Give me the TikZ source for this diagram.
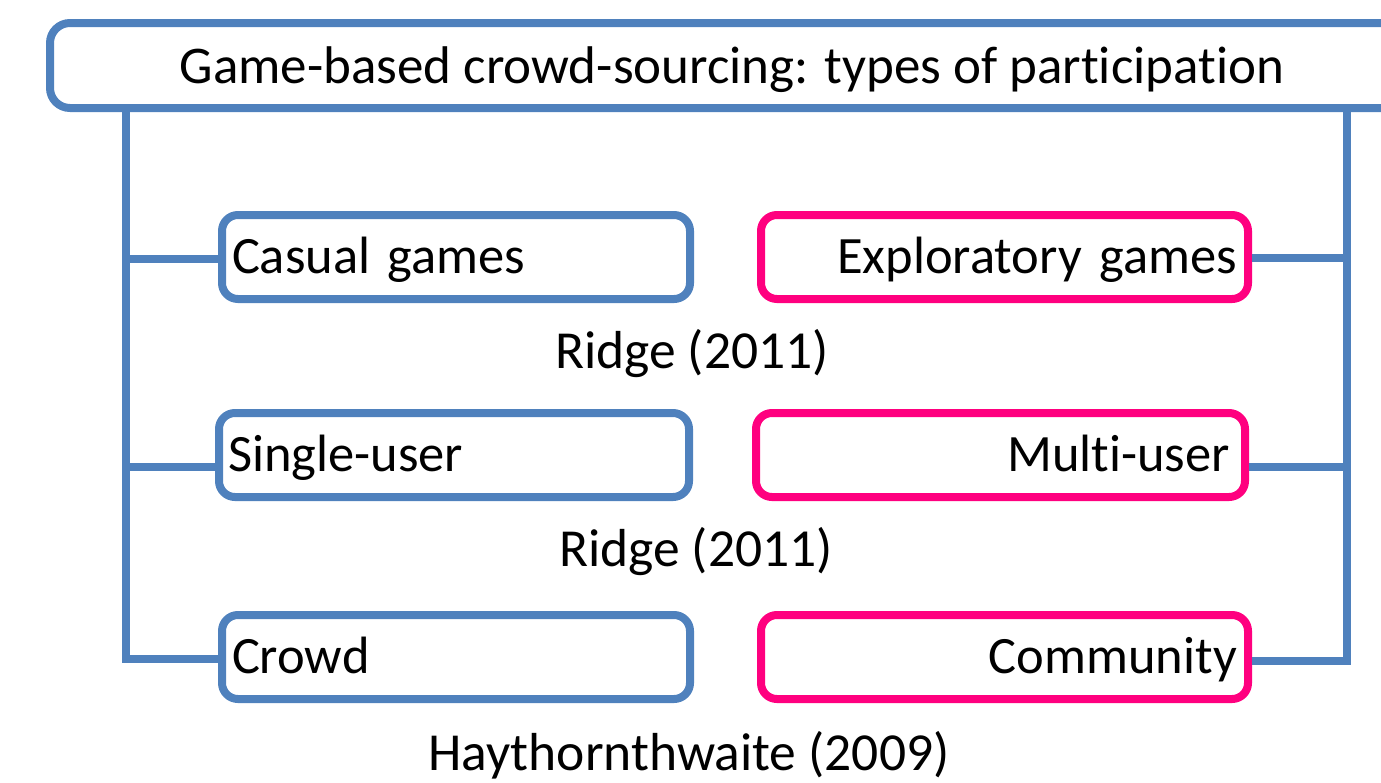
\documentclass[tikz,border=0pt]{standalone}
\usepackage{fontspec}
\setmainfont{Carlito}[Ligatures={NoCommon}]
\definecolor{obl}{RGB}{79,129,189}
\definecolor{opk}{RGB}{255,0,127}
\begin{document}
\begin{tikzpicture}[x=1pt,y=-1pt,
  every node/.style={font=\fontsize{52.5}{60}\selectfont, inner sep=0pt},
  conn/.style={draw=obl, line width=8pt},
  lbox/.style={draw=obl, line width=8pt, rounded corners=16pt, minimum height=84pt,
    text height=36pt, text depth=4pt, align=left},
  rbox/.style={draw=opk, line width=8pt, rounded corners=16pt, minimum height=84pt,
    text height=36pt, text depth=4pt, align=right},
  ref/.style={anchor=base, font=\fontsize{53.5}{60}\selectfont}]
\useasboundingbox (0,0) rectangle (1381,782);
\node[draw=obl, line width=8pt, rounded corners=20pt, minimum width=1364pt, minimum height=85pt,
  text height=36pt, text depth=1pt, font=\fontsize{53}{60}\selectfont] (title) at (732,65.5) {Game-based crowd-sourcing: types of participation};
% left column
\node[lbox, minimum width=468pt, text width=448pt] (casual) at (456,257) {Casual games};
\node[lbox, minimum width=470pt, text width=452pt] (single) at (454,455) {Single-user};
\node[lbox, minimum width=468pt, text width=448pt] (crowd) at (456,657) {Crowd};
% right column
\node[rbox, minimum width=487pt, text width=465pt] (explor) at (1004.5,257) {Exploratory games};
\node[rbox, minimum width=489pt, text width=459pt] (multi) at (1000.5,455) {Multi-user};
\node[rbox, minimum width=487pt, text width=465pt] (commun) at (1004.5,657) {Community};
% references
\node[ref] (r1) at (692,368) {Ridge (2011)};
\node[ref] (r2) at (696,566) {Ridge (2011)};
\node[ref] (r3) at (689,770) {Haythornthwaite (2009)};
% trunks
\coordinate (TL) at (126,108);
\coordinate (TR) at (1347,108);
\draw[conn] (TL) |- ([yshift=-2pt]crowd.west);
\draw[conn] (TR) |- ([yshift=-4pt]commun.east);
\draw[conn] ([yshift=-2pt]casual.west) -- ([yshift=-2pt]casual.west -| TL);
\draw[conn] ([yshift=-12pt]single.west) -- ([yshift=-12pt]single.west -| TL);
\draw[conn] ([yshift=-1pt]explor.east) -- ([yshift=-1pt]explor.east -| TR);
\draw[conn] ([yshift=-12pt]multi.east) -- ([yshift=-12pt]multi.east -| TR);
\end{tikzpicture}
\end{document}
